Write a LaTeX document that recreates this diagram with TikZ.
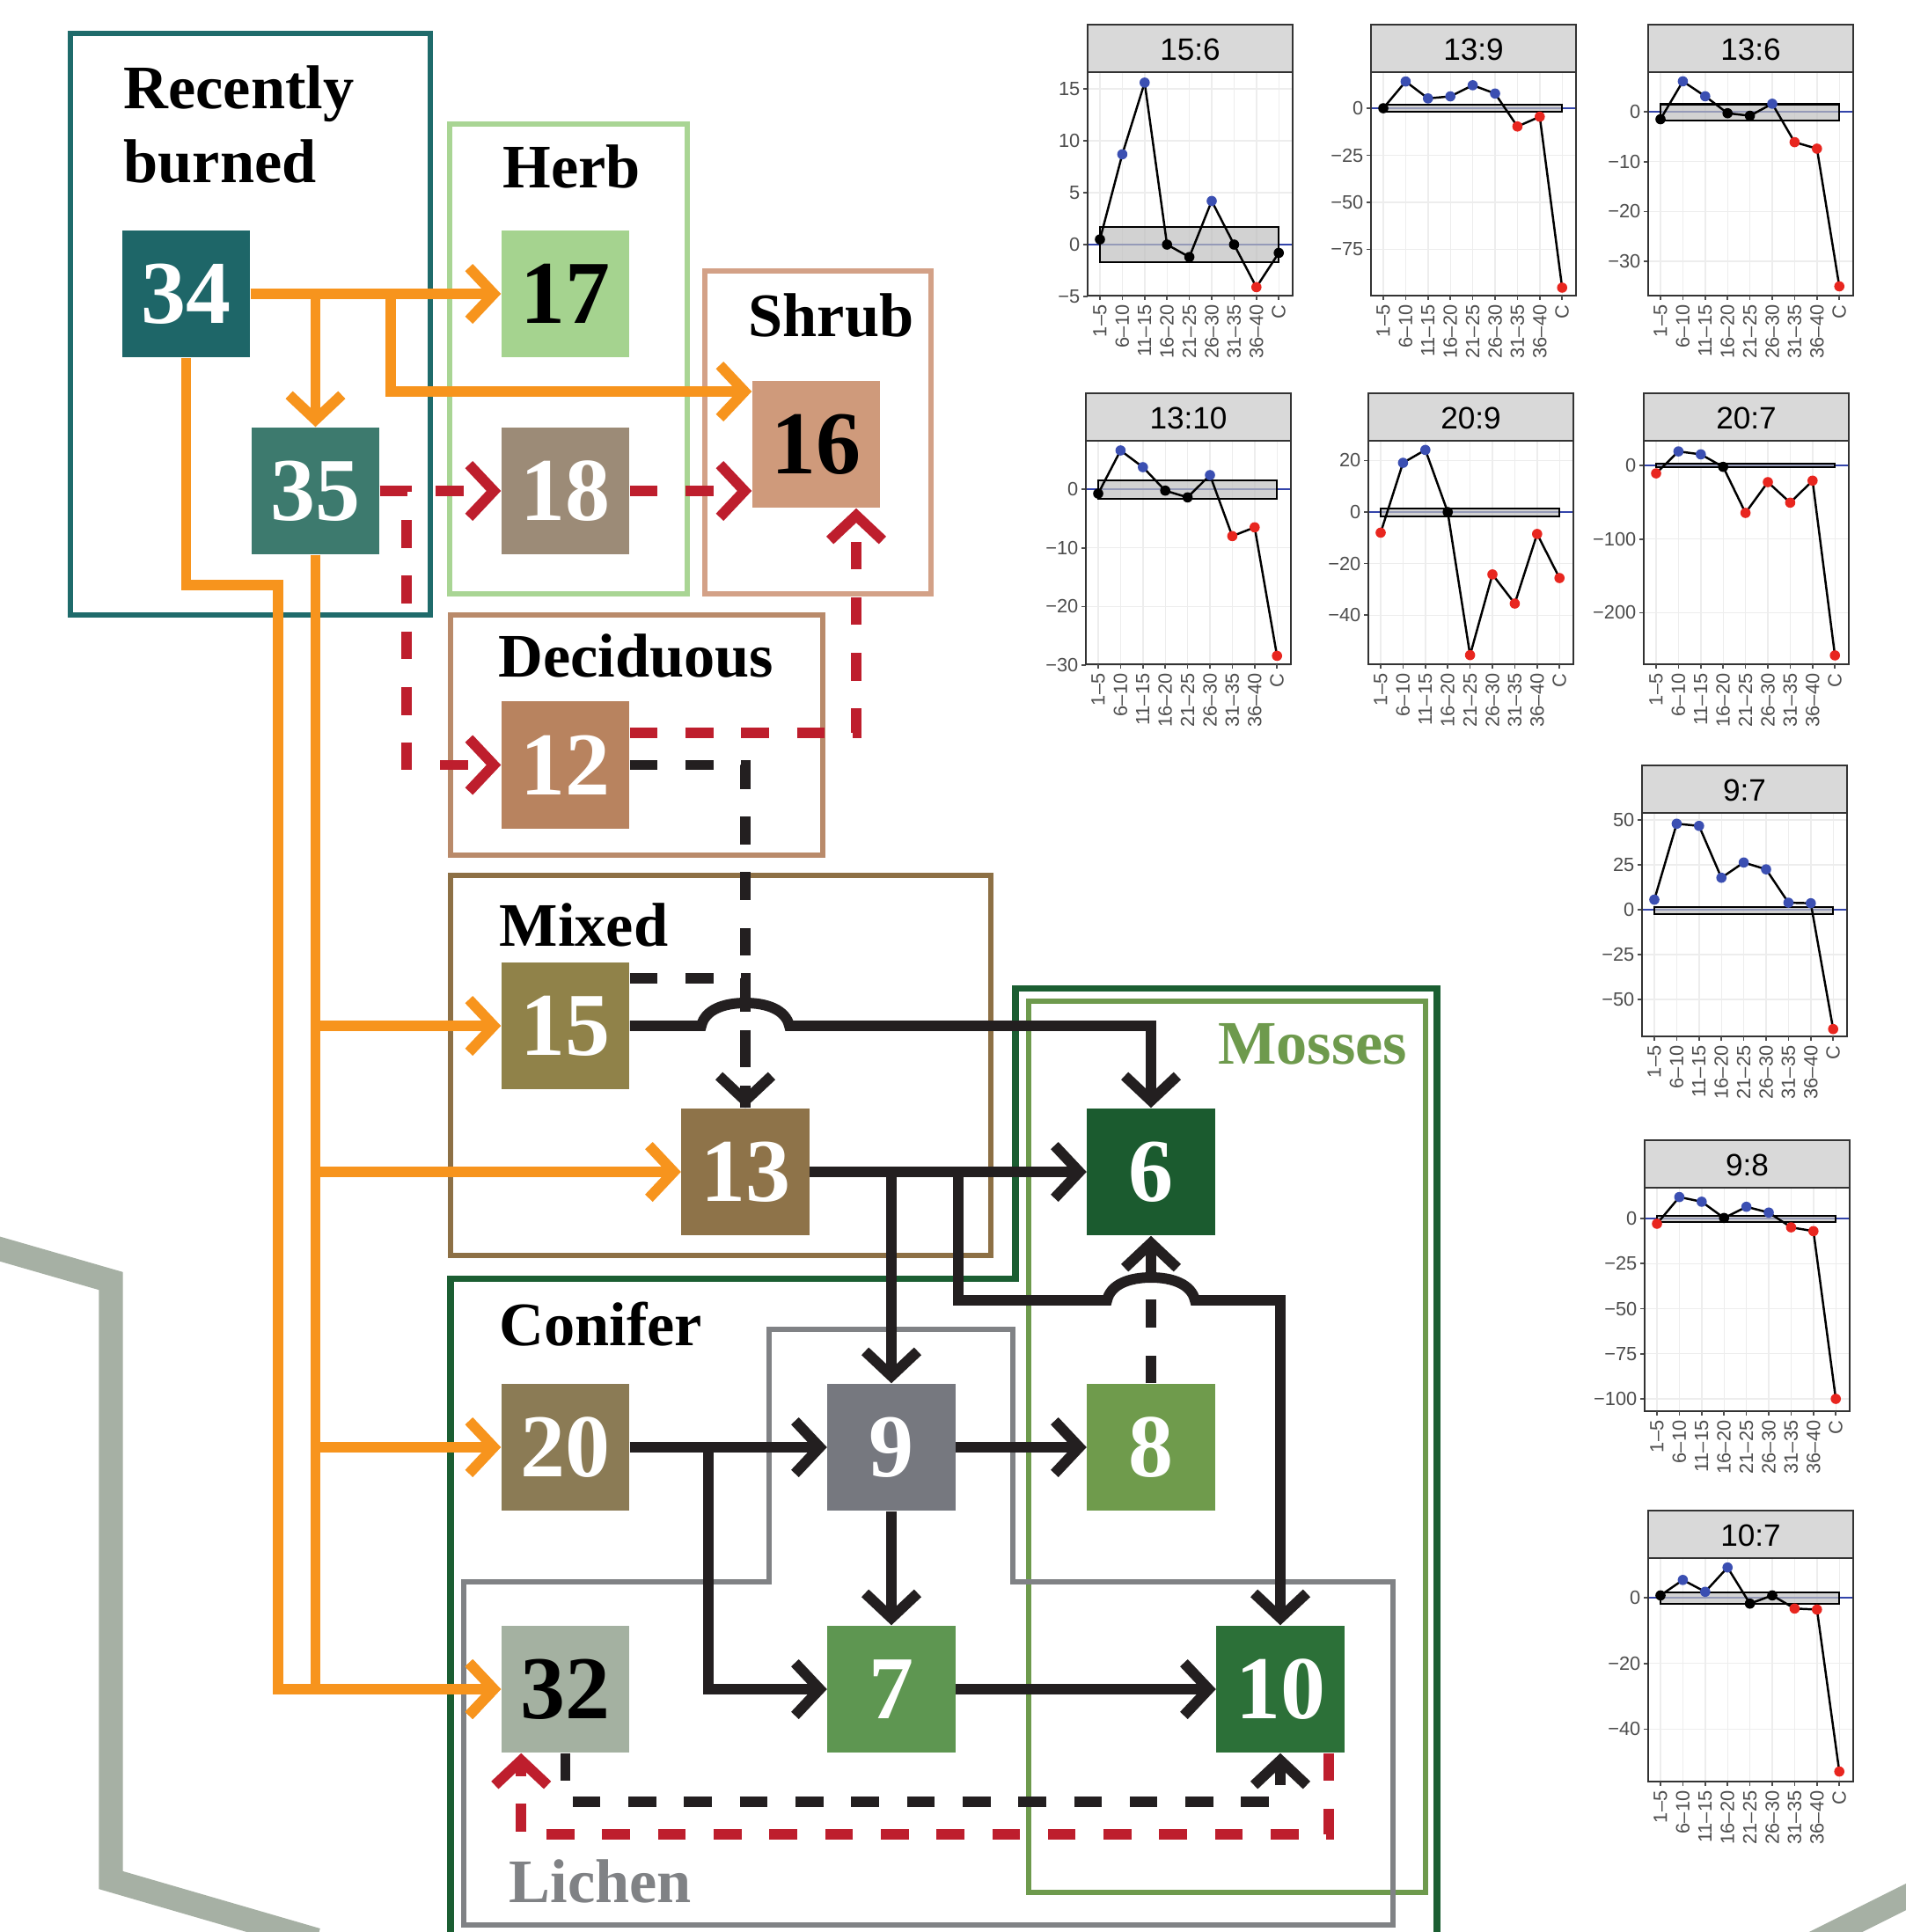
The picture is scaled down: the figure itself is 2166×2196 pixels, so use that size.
\documentclass[tikz,border=0pt]{standalone}
\usepackage{fontspec}
\setmainfont{Liberation Serif}
\newfontfamily\chartsans{Liberation Sans}
\usetikzlibrary{arrows.meta,calc}
\definecolor{cteal}{HTML}{1F6B6B}
\definecolor{n34}{HTML}{1E6668}
\definecolor{n35}{HTML}{3D7A6E}
\definecolor{n17}{HTML}{A5D38F}
\definecolor{cherb}{HTML}{A9D594}
\definecolor{n18}{HTML}{9C8B77}
\definecolor{n16}{HTML}{CF9A7B}
\definecolor{cshrub}{HTML}{D3A187}
\definecolor{n12}{HTML}{B8835F}
\definecolor{cdec}{HTML}{B98A6A}
\definecolor{n15}{HTML}{908249}
\definecolor{n13}{HTML}{8E7349}
\definecolor{cmix}{HTML}{8D7045}
\definecolor{n20}{HTML}{8B7B55}
\definecolor{n9}{HTML}{76787F}
\definecolor{clich}{HTML}{808285}
\definecolor{n8}{HTML}{6F9B4C}
\definecolor{cmoss}{HTML}{6E9A4D}
\definecolor{n32}{HTML}{A4B1A1}
\definecolor{n7}{HTML}{5E9651}
\definecolor{n10}{HTML}{2C7038}
\definecolor{n6}{HTML}{1B5B2F}
\definecolor{ccon}{HTML}{1B5E32}
\definecolor{corange}{HTML}{F7941D}
\definecolor{cred}{HTML}{BE1E2D}
\definecolor{cblk}{HTML}{231F20}
\definecolor{chex}{HTML}{A6B0A4}
\definecolor{cb}{HTML}{3B4FB2}
\definecolor{cr}{HTML}{E8261F}
\definecolor{ck}{HTML}{000000}
\definecolor{zeroblue}{HTML}{3344AA}
\definecolor{hdrgray}{HTML}{D9D9D9}
\definecolor{axisc}{HTML}{333333}
\definecolor{tickc}{HTML}{4D4D4D}
\definecolor{gridc}{HTML}{EDEDED}

\newcommand{\tickfnt}{\chartsans\fontsize{6.2}{7}\selectfont}
% #1 left, #2 top, #3 title, #4 y0 offset below plot top, #5 px per unit, #6 y ticks, #7 data, #8 band lo, #9 band hi
\newcommand{\chartpanel}[9]{%
\begin{scope}[shift={(#1,#2)}]
  \fill[white] (0,54) rectangle (233,308);
  \foreach \k in {0,...,8}
    \draw[gridc, line width=0.4pt] ({14+25.4*\k},54) -- ({14+25.4*\k},308);
  \foreach \v/\l in {#6}{
    \draw[gridc, line width=0.4pt] (0,{54+#4-#5*(\v)}) -- (233,{54+#4-#5*(\v)});
    \draw[tickc, line width=0.5pt] (-5,{54+#4-#5*(\v)}) -- (0,{54+#4-#5*(\v)});
    \node[anchor=east, inner sep=0pt, font=\tickfnt, text=tickc] at (-8,{54+#4-#5*(\v)}) {\l};
  }
  \draw[zeroblue, line width=0.7pt] (0,{54+#4}) -- (233,{54+#4});
  \draw[black, line width=0.6pt, fill=black!25, fill opacity=0.7]
    (14,{54+#4-#5*(#9)}) rectangle ({14+25.4*8},{54+#4-#5*(#8)});
  \foreach \v/\c [count=\i from 0, remember=\v as \pv (initially 0)] in {#7}{
    \ifnum\i>0
      \draw[black, line width=0.7pt] ({14+25.4*(\i-1)},{54+#4-#5*(\pv)}) -- ({14+25.4*\i},{54+#4-#5*(\v)});
    \fi
  }
  \foreach \v/\c [count=\i from 0] in {#7}
    \fill[\c] ({14+25.4*\i},{54+#4-#5*(\v)}) circle (1.65pt);
  \draw[axisc, line width=0.6pt] (0,54) rectangle (233,308);
  \draw[axisc, fill=hdrgray, line width=0.6pt] (0,0) rectangle (233,54);
  \node[font=\chartsans\fontsize{10}{11}\selectfont, inner sep=0pt] at (116.5,28) {#3};
  \foreach \l [count=\i from 0] in {1–5,6–10,11–15,16–20,21–25,26–30,31–35,36–40,C}{
    \draw[tickc, line width=0.5pt] ({14+25.4*\i},308) -- ({14+25.4*\i},313);
    \node[rotate=90, anchor=east, inner sep=0pt, font=\tickfnt, text=tickc] at ({14+25.4*\i},318) {\l};
  }
\end{scope}}

\begin{document}
\begin{tikzpicture}[x=0.01cm, y=-0.01cm,
  >={Straight Barb[length=8pt,width=17pt]},
  nbox/.style={minimum width=1.45cm, minimum height=1.44cm, inner sep=0pt,
    font=\fontsize{29}{30}\selectfont\bfseries, text=white},
  grp/.style={font=\fontsize{20}{22}\selectfont\bfseries, anchor=base west, inner sep=0pt},
  conn/.style={line width=3.4pt, line join=miter},
  oline/.style={conn, draw=corange},
  bline/.style={conn, draw=cblk},
  rline/.style={conn, draw=cred, dash pattern=on 9pt off 9pt},
  kdline/.style={conn, draw=cblk, dash pattern=on 9pt off 9pt},
  gbox/.style={line width=1.5pt}
]
\useasboundingbox (0,0) rectangle (2166,2196);
\fill[white] (0,0) rectangle (2166,2196);

% decorative hexagon bands
\draw[chex, line width=7.7pt, line join=miter] (-30,1411) -- (126,1456) -- (126,2137) -- (360,2205);
\draw[chex, line width=7.7pt] (2060,2209) -- (2190,2144);

% group boxes
\draw[cteal, line width=1.8pt] (80,38) rectangle (489,699);
\draw[cherb, gbox] (511,141) rectangle (781,675);
\draw[cshrub, gbox] (801,308) rectangle (1058,675);
\draw[cdec, gbox] (512,699) rectangle (935,972);
\draw[cmix, line width=1.9pt] (512,995) rectangle (1126,1427);
\draw[ccon, line width=2pt] (512,2230) -- (512,1453) -- (1154,1453) -- (1154,1123) -- (1633,1123) -- (1633,2230);
\draw[cmoss, gbox] (1169,1138) rectangle (1620,2151);
\draw[clich, gbox] (874,1511) -- (1151,1511) -- (1151,1798) -- (1583,1798) -- (1583,2188) -- (527,2188) -- (527,1798) -- (874,1798) -- cycle;

% group labels
\node[grp] (lrb1) at (140,123) {Recently};
\node[grp] (lrb2) at (140,207) {burned};
\node[grp] (lherb) at (571,213) {Herb};
\node[grp] (lshrub) at (850,382) {Shrub};
\node[grp] (ldec) at (566,769) {Deciduous};
\node[grp] (lmix) at (567,1075) {Mixed};
\node[grp] (lcon) at (567,1529) {Conifer};
\node[grp, anchor=base east, text=cmoss] (lmoss) at (1600,1209) {Mosses};
\node[grp, text=clich] (llich) at (578,2162) {Lichen};

% nodes
\node[nbox, fill=n34] (34) at (211.5,334) {34};
\node[nbox, fill=n35] (35) at (358.5,558) {35};
\node[nbox, fill=n17, text=black] (17) at (642.5,334) {17};
\node[nbox, fill=n18] (18) at (642.5,558) {18};
\node[nbox, fill=n16, text=black] (16) at (927.5,505) {16};
\node[nbox, fill=n12] (12) at (642.5,869.5) {12};
\node[nbox, fill=n15] (15) at (642.5,1166) {15};
\node[nbox, fill=n13] (13) at (847,1332) {13};
\node[nbox, fill=n6] (6) at (1308,1332) {6};
\node[nbox, fill=n20] (20) at (642.5,1645) {20};
\node[nbox, fill=n9] (9) at (1013,1645) {9};
\node[nbox, fill=n8] (8) at (1308,1645) {8};
\node[nbox, fill=n32, text=black] (32) at (642.5,1920) {32};
\node[nbox, fill=n7] (7) at (1013,1920) {7};
\node[nbox, fill=n10] (10) at (1455,1920) {10};

% helper coordinates
\coordinate (j16) at (444,445);
\coordinate (j34) at (316,665);
\coordinate (j12) at (462,558);
\coordinate (r12) at (973,833);
\coordinate (j20) at (805,1645);
\coordinate (j10) at (1089,1478);

% orange connectors
\draw[oline,->] (34.east) -- (17.west);
\draw[oline,->] (34.east) -| (35.north);
\draw[oline,->] (34.east) -| (j16) -- (j16 -| 16.west);
\draw[oline,->] (34.south) |- (j34) |- (32.west);
\draw[oline,->] (35.south) |- (15.west);
\draw[oline,->] (35.south) |- (13.west);
\draw[oline,->] (35.south) |- (20.west);
\draw[oline,->] (35.south) |- (32.west);

% red dashed connectors
\draw[rline,->] (35.east) -- (18.west);
\draw[rline,->] (18.east) -- (16.west |- 18.east);
\draw[rline,->] (35.east) -- (j12) |- (12.west);
\draw[rline,->] (12.east |- r12) -- (r12) -- (r12 |- 16.south);
\draw[rline,->] ($(10.south east)+(-18,0)$) -- ++(0,92) -| ($(32.south west)+(23,0)$);

% black dashed connectors
\draw[kdline,->] (12.east) -| (13.north);
\draw[kdline] ($(15.north east)+(0,19)$) -| (13.north);
\draw[kdline,->] (8.north) -- (6.south);
\draw[kdline,->] (32.south) -- ++(0,55) -| (10.south);

% black solid connectors
\draw[bline,->] (15.east) -- (797,1166) .. controls (801,1148) and (822,1140) .. (847,1140)
   .. controls (872,1140) and (893,1148) .. (897,1166) -| (6.north);
\draw[bline,->] (13.east) -- (6.west);
\draw[bline,->] (13.east) -| (9.north);
\draw[bline,->] (13.east) -| (j10) -- (1258,1478) .. controls (1262,1460) and (1283,1452) .. (1308,1452)
   .. controls (1333,1452) and (1354,1460) .. (1358,1478) -| (10.north);
\draw[bline,->] (20.east) -- (9.west);
\draw[bline,->] (20.east) -- (j20) |- (7.west);
\draw[bline,->] (9.east) -- (8.west);
\draw[bline,->] (9.south) -- (7.north);
\draw[bline,->] (7.east) -- (10.west);

% charts
\chartpanel{1236}{28}{15:6}{196}{11.8}{15/15,10/10,5/5,0/0,-5/−5}{0.5/ck,8.7/cb,15.6/cb,0/ck,-1.2/ck,4.2/cb,0/ck,-4.1/cr,-0.8/ck}{-1.7}{1.7}
\chartpanel{1558}{28}{13:9}{41}{2.14}{0/0,-25/−25,-50/−50,-75/−75}{0/ck,14.2/cb,5.2/cb,6.3/cb,12.2/cb,7.8/cb,-9.7/cr,-4.5/cr,-95.3/cr}{-2}{1.8}
\chartpanel{1873}{28}{13:6}{45}{5.67}{0/0,-10/−10,-20/−20,-30/−30}{-1.5/ck,6.1/cb,3.1/cb,-0.3/ck,-0.8/ck,1.6/cb,-6.1/cr,-7.4/cr,-35/cr}{-1.8}{1.5}
\chartpanel{1234}{447}{13:10}{55}{6.67}{0/0,-10/−10,-20/−20,-30/−30}{-0.75/ck,6.6/cb,3.75/cb,-0.25/ck,-1.4/ck,2.4/cb,-8/cr,-6.5/cr,-28.4/cr}{-1.65}{1.5}
\chartpanel{1555}{447}{20:9}{81}{2.93}{20/20,0/0,-20/−20,-40/−40}{-8/cr,19.1/cb,24.1/cb,0/ck,-55.5/cr,-24.2/cr,-35.5/cr,-8.5/cr,-25.6/cr}{-1.7}{1.4}
\chartpanel{1868}{447}{20:7}{28}{0.837}{0/0,-100/−100,-200/−200}{-10.8/cr,19/cb,15/cb,-2/ck,-64.5/cr,-22.7/cr,-50.6/cr,-20.7/cr,-258/cr}{-2.5}{2.5}
\chartpanel{1866}{870}{9:7}{110}{2.04}{50/50,25/25,0/0,-25/−25,-50/−50}{5.6/cb,47.9/cb,46.7/cb,17.8/cb,26.3/cb,22.5/cb,3.9/cb,3.6/cb,-66.5/cr}{-2.3}{1.3}
\chartpanel{1869}{1296}{9:8}{35}{2.05}{0/0,-25/−25,-50/−50,-75/−75,-100/−100}{-2.9/cr,11.9/cb,9.3/cb,0.3/ck,6.5/cb,3.3/cb,-4.9/cr,-7/cr,-100/cr}{-2}{1.3}
\chartpanel{1873}{1717}{10:7}{45}{3.735}{0/0,-20/−20,-40/−40}{0.7/ck,5.4/cb,1.8/cb,9.2/cb,-1.8/ck,0.7/ck,-3.3/cr,-3.6/cr,-52.9/cr}{-1.8}{1.6}
\end{tikzpicture}
\end{document}
